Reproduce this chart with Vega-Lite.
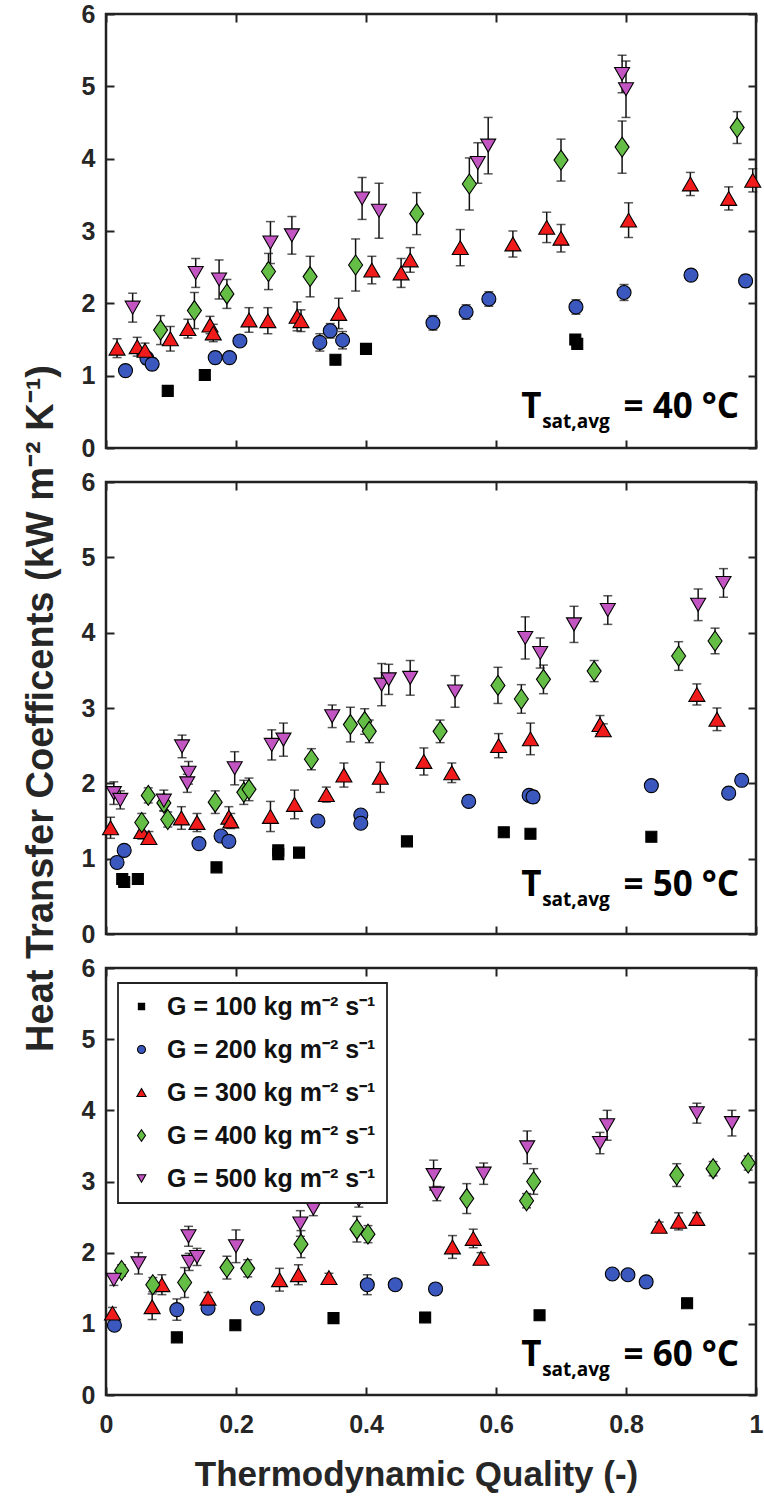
{
"$schema": "https://vega.github.io/schema/vega-lite/v6.json",
"background": "white",
"padding": {"left": 20, "top": 0, "right": 5, "bottom": 5},
"spacing": 34,
"bounds": "flush",
"resolve": {"scale": {"x": "independent", "y": "independent"}, "legend": {"color": "independent", "shape": "independent"}},
"config": {
 "font": "Liberation Sans",
 "view": {"stroke": "#222222", "strokeWidth": 2.5},
 "axis": {"grid": false, "domain": false, "ticks": true, "tickSize": -8, "tickWidth": 2, "tickColor": "#222222", "labelFont": "Liberation Sans", "labelFontSize": 25, "labelFontWeight": "bold", "labelColor": "#262626", "labelFlush": false, "labelOverlap": false, "labelBound": false, "titleFont": "Liberation Sans", "titleFontWeight": "bold", "titleColor": "#262626"},
 "axisX": {"labelPadding": 25},
 "axisY": {"labelPadding": 19}
},
"datasets": {
"ann": [
{"p":"40","k":"T","t":"T","x":0.639,"y":0.41},
{"p":"40","k":"s","t":"sat,avg","x":0.671,"y":0.27},
{"p":"40","k":"e","t":"= 40 °C","x":0.974,"y":0.41},
{"p":"50","k":"T","t":"T","x":0.639,"y":0.50},
{"p":"50","k":"s","t":"sat,avg","x":0.671,"y":0.37},
{"p":"50","k":"e","t":"= 50 °C","x":0.974,"y":0.50},
{"p":"60","k":"T","t":"T","x":0.639,"y":0.41},
{"p":"60","k":"s","t":"sat,avg","x":0.671,"y":0.26},
{"p":"60","k":"e","t":"= 60 °C","x":0.974,"y":0.41}
],
"pts": [
{"p":"40","G":"100","x":0.095,"y":0.79,"lo":0.75,"hi":0.83},
{"p":"40","G":"100","x":0.152,"y":1.01,"lo":0.97,"hi":1.05},
{"p":"40","G":"100","x":0.353,"y":1.22,"lo":1.18,"hi":1.26},
{"p":"40","G":"100","x":0.400,"y":1.37,"lo":1.33,"hi":1.41},
{"p":"40","G":"100","x":0.722,"y":1.50,"lo":1.46,"hi":1.54},
{"p":"40","G":"100","x":0.725,"y":1.44,"lo":1.40,"hi":1.48},
{"p":"40","G":"200","x":0.030,"y":1.07,"lo":1.00,"hi":1.14},
{"p":"40","G":"200","x":0.063,"y":1.24,"lo":1.16,"hi":1.32},
{"p":"40","G":"200","x":0.071,"y":1.16,"lo":1.08,"hi":1.24},
{"p":"40","G":"200","x":0.168,"y":1.25,"lo":1.17,"hi":1.33},
{"p":"40","G":"200","x":0.190,"y":1.25,"lo":1.19,"hi":1.31},
{"p":"40","G":"200","x":0.206,"y":1.48,"lo":1.42,"hi":1.54},
{"p":"40","G":"200","x":0.329,"y":1.46,"lo":1.34,"hi":1.58},
{"p":"40","G":"200","x":0.345,"y":1.62,"lo":1.52,"hi":1.72},
{"p":"40","G":"200","x":0.364,"y":1.49,"lo":1.37,"hi":1.61},
{"p":"40","G":"200","x":0.503,"y":1.73,"lo":1.63,"hi":1.83},
{"p":"40","G":"200","x":0.554,"y":1.88,"lo":1.78,"hi":1.98},
{"p":"40","G":"200","x":0.589,"y":2.06,"lo":1.96,"hi":2.16},
{"p":"40","G":"200","x":0.723,"y":1.95,"lo":1.85,"hi":2.05},
{"p":"40","G":"200","x":0.797,"y":2.15,"lo":2.04,"hi":2.26},
{"p":"40","G":"200","x":0.900,"y":2.39,"lo":2.32,"hi":2.46},
{"p":"40","G":"200","x":0.984,"y":2.31,"lo":2.23,"hi":2.39},
{"p":"40","G":"300","x":0.017,"y":1.38,"lo":1.25,"hi":1.51},
{"p":"40","G":"300","x":0.048,"y":1.40,"lo":1.27,"hi":1.53},
{"p":"40","G":"300","x":0.060,"y":1.35,"lo":1.25,"hi":1.45},
{"p":"40","G":"300","x":0.099,"y":1.51,"lo":1.34,"hi":1.68},
{"p":"40","G":"300","x":0.126,"y":1.65,"lo":1.52,"hi":1.78},
{"p":"40","G":"300","x":0.160,"y":1.70,"lo":1.58,"hi":1.82},
{"p":"40","G":"300","x":0.165,"y":1.59,"lo":1.47,"hi":1.71},
{"p":"40","G":"300","x":0.220,"y":1.77,"lo":1.60,"hi":1.94},
{"p":"40","G":"300","x":0.249,"y":1.76,"lo":1.58,"hi":1.94},
{"p":"40","G":"300","x":0.294,"y":1.82,"lo":1.62,"hi":2.02},
{"p":"40","G":"300","x":0.300,"y":1.76,"lo":1.61,"hi":1.91},
{"p":"40","G":"300","x":0.358,"y":1.86,"lo":1.65,"hi":2.07},
{"p":"40","G":"300","x":0.409,"y":2.46,"lo":2.27,"hi":2.65},
{"p":"40","G":"300","x":0.454,"y":2.42,"lo":2.22,"hi":2.62},
{"p":"40","G":"300","x":0.468,"y":2.60,"lo":2.43,"hi":2.77},
{"p":"40","G":"300","x":0.545,"y":2.77,"lo":2.52,"hi":3.02},
{"p":"40","G":"300","x":0.626,"y":2.82,"lo":2.64,"hi":3.00},
{"p":"40","G":"300","x":0.678,"y":3.05,"lo":2.84,"hi":3.26},
{"p":"40","G":"300","x":0.700,"y":2.90,"lo":2.71,"hi":3.09},
{"p":"40","G":"300","x":0.804,"y":3.15,"lo":2.91,"hi":3.39},
{"p":"40","G":"300","x":0.899,"y":3.65,"lo":3.49,"hi":3.81},
{"p":"40","G":"300","x":0.958,"y":3.45,"lo":3.29,"hi":3.61},
{"p":"40","G":"300","x":0.995,"y":3.70,"lo":3.54,"hi":3.86},
{"p":"40","G":"400","x":0.084,"y":1.63,"lo":1.43,"hi":1.83},
{"p":"40","G":"400","x":0.136,"y":1.90,"lo":1.65,"hi":2.15},
{"p":"40","G":"400","x":0.186,"y":2.13,"lo":1.93,"hi":2.33},
{"p":"40","G":"400","x":0.250,"y":2.44,"lo":2.19,"hi":2.69},
{"p":"40","G":"400","x":0.314,"y":2.37,"lo":2.09,"hi":2.65},
{"p":"40","G":"400","x":0.384,"y":2.53,"lo":2.17,"hi":2.89},
{"p":"40","G":"400","x":0.478,"y":3.24,"lo":2.95,"hi":3.53},
{"p":"40","G":"400","x":0.559,"y":3.65,"lo":3.29,"hi":4.01},
{"p":"40","G":"400","x":0.700,"y":3.98,"lo":3.69,"hi":4.27},
{"p":"40","G":"400","x":0.794,"y":4.16,"lo":3.80,"hi":4.52},
{"p":"40","G":"400","x":0.971,"y":4.43,"lo":4.21,"hi":4.65},
{"p":"40","G":"500","x":0.041,"y":1.94,"lo":1.74,"hi":2.14},
{"p":"40","G":"500","x":0.138,"y":2.42,"lo":2.22,"hi":2.62},
{"p":"40","G":"500","x":0.174,"y":2.33,"lo":2.06,"hi":2.60},
{"p":"40","G":"500","x":0.253,"y":2.84,"lo":2.55,"hi":3.13},
{"p":"40","G":"500","x":0.286,"y":2.94,"lo":2.68,"hi":3.20},
{"p":"40","G":"500","x":0.394,"y":3.45,"lo":3.16,"hi":3.74},
{"p":"40","G":"500","x":0.420,"y":3.28,"lo":2.90,"hi":3.66},
{"p":"40","G":"500","x":0.572,"y":3.94,"lo":3.66,"hi":4.22},
{"p":"40","G":"500","x":0.588,"y":4.18,"lo":3.79,"hi":4.57},
{"p":"40","G":"500","x":0.794,"y":5.17,"lo":4.91,"hi":5.43},
{"p":"40","G":"500","x":0.800,"y":4.96,"lo":4.57,"hi":5.35},
{"p":"50","G":"100","x":0.025,"y":0.73,"lo":0.69,"hi":0.77},
{"p":"50","G":"100","x":0.028,"y":0.69,"lo":0.65,"hi":0.73},
{"p":"50","G":"100","x":0.049,"y":0.73,"lo":0.69,"hi":0.77},
{"p":"50","G":"100","x":0.170,"y":0.885,"lo":0.845,"hi":0.925},
{"p":"50","G":"100","x":0.265,"y":1.11,"lo":1.07,"hi":1.15},
{"p":"50","G":"100","x":0.265,"y":1.06,"lo":1.02,"hi":1.10},
{"p":"50","G":"100","x":0.297,"y":1.08,"lo":1.04,"hi":1.12},
{"p":"50","G":"100","x":0.463,"y":1.23,"lo":1.19,"hi":1.27},
{"p":"50","G":"100","x":0.612,"y":1.35,"lo":1.31,"hi":1.39},
{"p":"50","G":"100","x":0.653,"y":1.33,"lo":1.29,"hi":1.37},
{"p":"50","G":"100","x":0.839,"y":1.29,"lo":1.25,"hi":1.33},
{"p":"50","G":"200","x":0.017,"y":0.95,"lo":0.88,"hi":1.02},
{"p":"50","G":"200","x":0.028,"y":1.11,"lo":1.05,"hi":1.17},
{"p":"50","G":"200","x":0.143,"y":1.20,"lo":1.14,"hi":1.26},
{"p":"50","G":"200","x":0.177,"y":1.30,"lo":1.23,"hi":1.37},
{"p":"50","G":"200","x":0.189,"y":1.23,"lo":1.16,"hi":1.30},
{"p":"50","G":"200","x":0.326,"y":1.50,"lo":1.45,"hi":1.55},
{"p":"50","G":"200","x":0.392,"y":1.58,"lo":1.53,"hi":1.63},
{"p":"50","G":"200","x":0.392,"y":1.47,"lo":1.41,"hi":1.53},
{"p":"50","G":"200","x":0.558,"y":1.76,"lo":1.71,"hi":1.81},
{"p":"50","G":"200","x":0.651,"y":1.84,"lo":1.78,"hi":1.90},
{"p":"50","G":"200","x":0.657,"y":1.82,"lo":1.74,"hi":1.90},
{"p":"50","G":"200","x":0.839,"y":1.97,"lo":1.92,"hi":2.02},
{"p":"50","G":"200","x":0.958,"y":1.87,"lo":1.82,"hi":1.92},
{"p":"50","G":"200","x":0.978,"y":2.04,"lo":1.99,"hi":2.09},
{"p":"50","G":"300","x":0.007,"y":1.41,"lo":1.27,"hi":1.55},
{"p":"50","G":"300","x":0.055,"y":1.36,"lo":1.26,"hi":1.46},
{"p":"50","G":"300","x":0.066,"y":1.28,"lo":1.20,"hi":1.36},
{"p":"50","G":"300","x":0.116,"y":1.54,"lo":1.39,"hi":1.69},
{"p":"50","G":"300","x":0.140,"y":1.48,"lo":1.36,"hi":1.60},
{"p":"50","G":"300","x":0.189,"y":1.55,"lo":1.41,"hi":1.69},
{"p":"50","G":"300","x":0.192,"y":1.50,"lo":1.40,"hi":1.60},
{"p":"50","G":"300","x":0.253,"y":1.56,"lo":1.36,"hi":1.76},
{"p":"50","G":"300","x":0.290,"y":1.72,"lo":1.53,"hi":1.91},
{"p":"50","G":"300","x":0.339,"y":1.85,"lo":1.75,"hi":1.95},
{"p":"50","G":"300","x":0.366,"y":2.11,"lo":1.95,"hi":2.27},
{"p":"50","G":"300","x":0.422,"y":2.08,"lo":1.88,"hi":2.28},
{"p":"50","G":"300","x":0.489,"y":2.29,"lo":2.11,"hi":2.47},
{"p":"50","G":"300","x":0.532,"y":2.14,"lo":2.01,"hi":2.27},
{"p":"50","G":"300","x":0.604,"y":2.50,"lo":2.34,"hi":2.66},
{"p":"50","G":"300","x":0.653,"y":2.59,"lo":2.38,"hi":2.80},
{"p":"50","G":"300","x":0.760,"y":2.78,"lo":2.66,"hi":2.90},
{"p":"50","G":"300","x":0.765,"y":2.71,"lo":2.63,"hi":2.79},
{"p":"50","G":"300","x":0.909,"y":3.18,"lo":3.04,"hi":3.32},
{"p":"50","G":"300","x":0.940,"y":2.85,"lo":2.70,"hi":3.00},
{"p":"50","G":"400","x":0.055,"y":1.48,"lo":1.36,"hi":1.60},
{"p":"50","G":"400","x":0.065,"y":1.84,"lo":1.74,"hi":1.94},
{"p":"50","G":"400","x":0.089,"y":1.74,"lo":1.64,"hi":1.84},
{"p":"50","G":"400","x":0.095,"y":1.52,"lo":1.42,"hi":1.62},
{"p":"50","G":"400","x":0.168,"y":1.75,"lo":1.60,"hi":1.90},
{"p":"50","G":"400","x":0.212,"y":1.88,"lo":1.72,"hi":2.04},
{"p":"50","G":"400","x":0.220,"y":1.92,"lo":1.77,"hi":2.07},
{"p":"50","G":"400","x":0.316,"y":2.32,"lo":2.18,"hi":2.46},
{"p":"50","G":"400","x":0.376,"y":2.78,"lo":2.55,"hi":3.01},
{"p":"50","G":"400","x":0.398,"y":2.82,"lo":2.65,"hi":2.99},
{"p":"50","G":"400","x":0.405,"y":2.69,"lo":2.54,"hi":2.84},
{"p":"50","G":"400","x":0.514,"y":2.69,"lo":2.54,"hi":2.84},
{"p":"50","G":"400","x":0.603,"y":3.30,"lo":3.06,"hi":3.54},
{"p":"50","G":"400","x":0.639,"y":3.12,"lo":2.93,"hi":3.31},
{"p":"50","G":"400","x":0.673,"y":3.38,"lo":3.19,"hi":3.57},
{"p":"50","G":"400","x":0.751,"y":3.49,"lo":3.35,"hi":3.63},
{"p":"50","G":"400","x":0.881,"y":3.69,"lo":3.50,"hi":3.88},
{"p":"50","G":"400","x":0.937,"y":3.89,"lo":3.72,"hi":4.06},
{"p":"50","G":"500","x":0.012,"y":1.87,"lo":1.72,"hi":2.02},
{"p":"50","G":"500","x":0.022,"y":1.78,"lo":1.66,"hi":1.90},
{"p":"50","G":"500","x":0.089,"y":1.77,"lo":1.63,"hi":1.91},
{"p":"50","G":"500","x":0.117,"y":2.49,"lo":2.34,"hi":2.64},
{"p":"50","G":"500","x":0.127,"y":2.14,"lo":1.99,"hi":2.29},
{"p":"50","G":"500","x":0.125,"y":2.00,"lo":1.88,"hi":2.12},
{"p":"50","G":"500","x":0.198,"y":2.20,"lo":1.98,"hi":2.42},
{"p":"50","G":"500","x":0.255,"y":2.51,"lo":2.31,"hi":2.71},
{"p":"50","G":"500","x":0.273,"y":2.58,"lo":2.36,"hi":2.80},
{"p":"50","G":"500","x":0.348,"y":2.89,"lo":2.74,"hi":3.04},
{"p":"50","G":"500","x":0.424,"y":3.31,"lo":3.03,"hi":3.59},
{"p":"50","G":"500","x":0.435,"y":3.38,"lo":3.18,"hi":3.58},
{"p":"50","G":"500","x":0.468,"y":3.40,"lo":3.17,"hi":3.63},
{"p":"50","G":"500","x":0.537,"y":3.22,"lo":3.01,"hi":3.43},
{"p":"50","G":"500","x":0.645,"y":3.93,"lo":3.65,"hi":4.21},
{"p":"50","G":"500","x":0.668,"y":3.73,"lo":3.53,"hi":3.93},
{"p":"50","G":"500","x":0.720,"y":4.11,"lo":3.87,"hi":4.35},
{"p":"50","G":"500","x":0.772,"y":4.30,"lo":4.11,"hi":4.49},
{"p":"50","G":"500","x":0.911,"y":4.37,"lo":4.16,"hi":4.58},
{"p":"50","G":"500","x":0.950,"y":4.66,"lo":4.47,"hi":4.85},
{"p":"60","G":"100","x":0.109,"y":0.81,"lo":0.77,"hi":0.85},
{"p":"60","G":"100","x":0.199,"y":0.98,"lo":0.94,"hi":1.02},
{"p":"60","G":"100","x":0.350,"y":1.08,"lo":1.04,"hi":1.12},
{"p":"60","G":"100","x":0.491,"y":1.09,"lo":1.05,"hi":1.13},
{"p":"60","G":"100","x":0.667,"y":1.12,"lo":1.08,"hi":1.16},
{"p":"60","G":"100","x":0.894,"y":1.29,"lo":1.25,"hi":1.33},
{"p":"60","G":"200","x":0.013,"y":0.98,"lo":0.92,"hi":1.04},
{"p":"60","G":"200","x":0.109,"y":1.20,"lo":1.05,"hi":1.35},
{"p":"60","G":"200","x":0.157,"y":1.22,"lo":1.16,"hi":1.28},
{"p":"60","G":"200","x":0.233,"y":1.22,"lo":1.17,"hi":1.27},
{"p":"60","G":"200","x":0.402,"y":1.55,"lo":1.41,"hi":1.69},
{"p":"60","G":"200","x":0.445,"y":1.55,"lo":1.50,"hi":1.60},
{"p":"60","G":"200","x":0.507,"y":1.49,"lo":1.44,"hi":1.54},
{"p":"60","G":"200","x":0.779,"y":1.70,"lo":1.64,"hi":1.76},
{"p":"60","G":"200","x":0.803,"y":1.69,"lo":1.64,"hi":1.74},
{"p":"60","G":"200","x":0.831,"y":1.59,"lo":1.54,"hi":1.64},
{"p":"60","G":"300","x":0.010,"y":1.15,"lo":1.07,"hi":1.23},
{"p":"60","G":"300","x":0.071,"y":1.24,"lo":1.06,"hi":1.42},
{"p":"60","G":"300","x":0.086,"y":1.55,"lo":1.41,"hi":1.69},
{"p":"60","G":"300","x":0.157,"y":1.36,"lo":1.28,"hi":1.44},
{"p":"60","G":"300","x":0.267,"y":1.62,"lo":1.46,"hi":1.78},
{"p":"60","G":"300","x":0.296,"y":1.69,"lo":1.55,"hi":1.83},
{"p":"60","G":"300","x":0.343,"y":1.65,"lo":1.59,"hi":1.71},
{"p":"60","G":"300","x":0.533,"y":2.08,"lo":1.92,"hi":2.24},
{"p":"60","G":"300","x":0.565,"y":2.20,"lo":2.07,"hi":2.33},
{"p":"60","G":"300","x":0.577,"y":1.92,"lo":1.84,"hi":2.00},
{"p":"60","G":"300","x":0.851,"y":2.37,"lo":2.31,"hi":2.43},
{"p":"60","G":"300","x":0.881,"y":2.44,"lo":2.32,"hi":2.56},
{"p":"60","G":"300","x":0.909,"y":2.48,"lo":2.40,"hi":2.56},
{"p":"60","G":"400","x":0.024,"y":1.75,"lo":1.67,"hi":1.83},
{"p":"60","G":"400","x":0.072,"y":1.55,"lo":1.45,"hi":1.65},
{"p":"60","G":"400","x":0.121,"y":1.58,"lo":1.37,"hi":1.79},
{"p":"60","G":"400","x":0.186,"y":1.79,"lo":1.63,"hi":1.95},
{"p":"60","G":"400","x":0.218,"y":1.78,"lo":1.66,"hi":1.90},
{"p":"60","G":"400","x":0.300,"y":2.12,"lo":1.93,"hi":2.31},
{"p":"60","G":"400","x":0.386,"y":2.33,"lo":2.15,"hi":2.51},
{"p":"60","G":"400","x":0.403,"y":2.26,"lo":2.14,"hi":2.38},
{"p":"60","G":"400","x":0.555,"y":2.76,"lo":2.55,"hi":2.97},
{"p":"60","G":"400","x":0.647,"y":2.73,"lo":2.63,"hi":2.83},
{"p":"60","G":"400","x":0.658,"y":3.00,"lo":2.82,"hi":3.18},
{"p":"60","G":"400","x":0.878,"y":3.09,"lo":2.93,"hi":3.25},
{"p":"60","G":"400","x":0.934,"y":3.18,"lo":3.08,"hi":3.28},
{"p":"60","G":"400","x":0.988,"y":3.26,"lo":3.16,"hi":3.36},
{"p":"60","G":"500","x":0.012,"y":1.62,"lo":1.54,"hi":1.70},
{"p":"60","G":"500","x":0.050,"y":1.85,"lo":1.70,"hi":2.00},
{"p":"60","G":"500","x":0.127,"y":2.23,"lo":2.09,"hi":2.37},
{"p":"60","G":"500","x":0.128,"y":1.87,"lo":1.75,"hi":1.99},
{"p":"60","G":"500","x":0.140,"y":1.94,"lo":1.82,"hi":2.06},
{"p":"60","G":"500","x":0.200,"y":2.09,"lo":1.86,"hi":2.32},
{"p":"60","G":"500","x":0.299,"y":2.41,"lo":2.23,"hi":2.59},
{"p":"60","G":"500","x":0.319,"y":2.62,"lo":2.52,"hi":2.72},
{"p":"60","G":"500","x":0.389,"y":2.74,"lo":2.64,"hi":2.84},
{"p":"60","G":"500","x":0.504,"y":3.09,"lo":2.88,"hi":3.30},
{"p":"60","G":"500","x":0.509,"y":2.83,"lo":2.73,"hi":2.93},
{"p":"60","G":"500","x":0.581,"y":3.11,"lo":2.96,"hi":3.26},
{"p":"60","G":"500","x":0.648,"y":3.48,"lo":3.25,"hi":3.71},
{"p":"60","G":"500","x":0.760,"y":3.54,"lo":3.39,"hi":3.69},
{"p":"60","G":"500","x":0.771,"y":3.79,"lo":3.58,"hi":4.00},
{"p":"60","G":"500","x":0.909,"y":3.96,"lo":3.82,"hi":4.10},
{"p":"60","G":"500","x":0.963,"y":3.82,"lo":3.64,"hi":4.00}
]
},
"vconcat": [
{
 "width": 650, "height": 434,
 "layer": [
  {"data": {"name": "pts"}, "transform": [{"filter": "datum.p == '40'"}],
   "mark": {"type": "errorbar", "color": "#111111", "ticks": {"size": 9, "thickness": 1.5}, "rule": {"strokeWidth": 1.5}},
   "encoding": {
    "x": {"field": "x", "type": "quantitative", "scale": {"domain": [0, 1], "nice": false, "zero": false}, "axis": {"orient": "bottom", "values": [0, 0.2, 0.4, 0.6, 0.8, 1], "labels": false, "title": null}},
    "y": {"field": "lo", "type": "quantitative", "scale": {"domain": [0, 6], "nice": false, "zero": false}, "axis": {"orient": "left", "values": [0, 1, 2, 3, 4, 5, 6], "format": "d", "title": null}},
    "y2": {"field": "hi"}
   }},
  {"data": {"name": "pts"}, "transform": [{"filter": "datum.p == '40'"}],
   "mark": {"type": "point", "filled": true, "opacity": 1, "size": 400, "stroke": "#000000", "strokeWidth": 1.1},
   "encoding": {
    "x": {"field": "x", "type": "quantitative", "scale": {"domain": [0, 1], "nice": false, "zero": false}, "axis": {"orient": "top", "values": [0, 0.2, 0.4, 0.6, 0.8, 1], "labels": false, "title": null}},
    "y": {"field": "y", "type": "quantitative", "scale": {"domain": [0, 6], "nice": false, "zero": false}, "axis": {"orient": "right", "values": [0, 1, 2, 3, 4, 5, 6], "labels": false, "title": null}},
    "color": {"field": "G", "type": "nominal", "scale": {"domain": ["100", "200", "300", "400", "500"], "range": ["#000000", "#3B58BE", "#F21B1B", "#64BE46", "#C355C3"]}, "legend": null},
    "shape": {"field": "G", "type": "nominal", "scale": {"domain": ["100", "200", "300", "400", "500"], "range": ["M-0.55,-0.55H0.55V0.55H-0.55Z", "M0.7,0C0.7,0.3866,0.3866,0.7,0,0.7C-0.3866,0.7,-0.7,0.3866,-0.7,0C-0.7,-0.3866,-0.3866,-0.7,0,-0.7C0.3866,-0.7,0.7,-0.3866,0.7,0Z", "M0,-0.69L0.8,0.69L-0.8,0.69Z", "M0,-1L0.7,0L0,1L-0.7,0Z", "M0,0.65L0.75,-0.65L-0.75,-0.65Z"]}, "legend": null}
   }},
  {"data": {"name": "ann"}, "transform": [{"filter": "datum.p == '40' && datum.k == 'T'"}],
   "mark": {"type": "text", "font": "Open Sans", "fontWeight": "bold", "fontSize": 35, "align": "left", "baseline": "alphabetic", "color": "#000000"},
   "encoding": {"x": {"field": "x", "type": "quantitative", "scale": {"domain": [0, 1], "nice": false, "zero": false}, "axis": null}, "y": {"field": "y", "type": "quantitative", "scale": {"domain": [0, 6], "nice": false, "zero": false}, "axis": null}, "text": {"field": "t"}}},
  {"data": {"name": "ann"}, "transform": [{"filter": "datum.p == '40' && datum.k == 's'"}],
   "mark": {"type": "text", "font": "Open Sans", "fontWeight": "bold", "fontSize": 19, "align": "left", "baseline": "alphabetic", "color": "#000000"},
   "encoding": {"x": {"field": "x", "type": "quantitative", "scale": {"domain": [0, 1], "nice": false, "zero": false}, "axis": null}, "y": {"field": "y", "type": "quantitative", "scale": {"domain": [0, 6], "nice": false, "zero": false}, "axis": null}, "text": {"field": "t"}}},
  {"data": {"name": "ann"}, "transform": [{"filter": "datum.p == '40' && datum.k == 'e'"}],
   "mark": {"type": "text", "font": "Open Sans", "fontWeight": "bold", "fontSize": 35, "align": "right", "baseline": "alphabetic", "color": "#000000"},
   "encoding": {"x": {"field": "x", "type": "quantitative", "scale": {"domain": [0, 1], "nice": false, "zero": false}, "axis": null}, "y": {"field": "y", "type": "quantitative", "scale": {"domain": [0, 6], "nice": false, "zero": false}, "axis": null}, "text": {"field": "t"}}}
 ]
},
{
 "width": 650, "height": 452,
 "layer": [
  {"data": {"name": "pts"}, "transform": [{"filter": "datum.p == '50'"}],
   "mark": {"type": "errorbar", "color": "#111111", "ticks": {"size": 9, "thickness": 1.5}, "rule": {"strokeWidth": 1.5}},
   "encoding": {
    "x": {"field": "x", "type": "quantitative", "scale": {"domain": [0, 1], "nice": false, "zero": false}, "axis": {"orient": "bottom", "values": [0, 0.2, 0.4, 0.6, 0.8, 1], "labels": false, "title": null}},
    "y": {"field": "lo", "type": "quantitative", "scale": {"domain": [0, 6], "nice": false, "zero": false}, "axis": {"orient": "left", "values": [0, 1, 2, 3, 4, 5, 6], "format": "d", "title": "Heat Transfer Coefficents (kW m⁻² K⁻¹)", "titleFontSize": 38, "titlePadding": 21}},
    "y2": {"field": "hi"}
   }},
  {"data": {"name": "pts"}, "transform": [{"filter": "datum.p == '50'"}],
   "mark": {"type": "point", "filled": true, "opacity": 1, "size": 400, "stroke": "#000000", "strokeWidth": 1.1},
   "encoding": {
    "x": {"field": "x", "type": "quantitative", "scale": {"domain": [0, 1], "nice": false, "zero": false}, "axis": {"orient": "top", "values": [0, 0.2, 0.4, 0.6, 0.8, 1], "labels": false, "title": null}},
    "y": {"field": "y", "type": "quantitative", "scale": {"domain": [0, 6], "nice": false, "zero": false}, "axis": {"orient": "right", "values": [0, 1, 2, 3, 4, 5, 6], "labels": false, "title": null}},
    "color": {"field": "G", "type": "nominal", "scale": {"domain": ["100", "200", "300", "400", "500"], "range": ["#000000", "#3B58BE", "#F21B1B", "#64BE46", "#C355C3"]}, "legend": null},
    "shape": {"field": "G", "type": "nominal", "scale": {"domain": ["100", "200", "300", "400", "500"], "range": ["M-0.55,-0.55H0.55V0.55H-0.55Z", "M0.7,0C0.7,0.3866,0.3866,0.7,0,0.7C-0.3866,0.7,-0.7,0.3866,-0.7,0C-0.7,-0.3866,-0.3866,-0.7,0,-0.7C0.3866,-0.7,0.7,-0.3866,0.7,0Z", "M0,-0.69L0.8,0.69L-0.8,0.69Z", "M0,-1L0.7,0L0,1L-0.7,0Z", "M0,0.65L0.75,-0.65L-0.75,-0.65Z"]}, "legend": null}
   }},
  {"data": {"name": "ann"}, "transform": [{"filter": "datum.p == '50' && datum.k == 'T'"}],
   "mark": {"type": "text", "font": "Open Sans", "fontWeight": "bold", "fontSize": 35, "align": "left", "baseline": "alphabetic", "color": "#000000"},
   "encoding": {"x": {"field": "x", "type": "quantitative", "scale": {"domain": [0, 1], "nice": false, "zero": false}, "axis": null}, "y": {"field": "y", "type": "quantitative", "scale": {"domain": [0, 6], "nice": false, "zero": false}, "axis": null}, "text": {"field": "t"}}},
  {"data": {"name": "ann"}, "transform": [{"filter": "datum.p == '50' && datum.k == 's'"}],
   "mark": {"type": "text", "font": "Open Sans", "fontWeight": "bold", "fontSize": 19, "align": "left", "baseline": "alphabetic", "color": "#000000"},
   "encoding": {"x": {"field": "x", "type": "quantitative", "scale": {"domain": [0, 1], "nice": false, "zero": false}, "axis": null}, "y": {"field": "y", "type": "quantitative", "scale": {"domain": [0, 6], "nice": false, "zero": false}, "axis": null}, "text": {"field": "t"}}},
  {"data": {"name": "ann"}, "transform": [{"filter": "datum.p == '50' && datum.k == 'e'"}],
   "mark": {"type": "text", "font": "Open Sans", "fontWeight": "bold", "fontSize": 35, "align": "right", "baseline": "alphabetic", "color": "#000000"},
   "encoding": {"x": {"field": "x", "type": "quantitative", "scale": {"domain": [0, 1], "nice": false, "zero": false}, "axis": null}, "y": {"field": "y", "type": "quantitative", "scale": {"domain": [0, 6], "nice": false, "zero": false}, "axis": null}, "text": {"field": "t"}}}
 ]
},
{
 "width": 650, "height": 427,
 "layer": [
  {"data": {"name": "pts"}, "transform": [{"filter": "datum.p == '60'"}],
   "mark": {"type": "errorbar", "color": "#111111", "ticks": {"size": 9, "thickness": 1.5}, "rule": {"strokeWidth": 1.5}},
   "encoding": {
    "x": {"field": "x", "type": "quantitative", "scale": {"domain": [0, 1], "nice": false, "zero": false}, "axis": {"orient": "bottom", "values": [0, 0.2, 0.4, 0.6, 0.8, 1], "format": "~g", "title": "Thermodynamic Quality (-)", "titleFontSize": 35, "titlePadding": 20, "titleX": 310}},
    "y": {"field": "lo", "type": "quantitative", "scale": {"domain": [0, 6], "nice": false, "zero": false}, "axis": {"orient": "left", "values": [0, 1, 2, 3, 4, 5, 6], "format": "d", "title": null}},
    "y2": {"field": "hi"}
   }},
  {"data": {"name": "pts"}, "transform": [{"filter": "datum.p == '60'"}],
   "mark": {"type": "point", "filled": true, "opacity": 1, "size": 400, "stroke": "#000000", "strokeWidth": 1.1},
   "encoding": {
    "x": {"field": "x", "type": "quantitative", "scale": {"domain": [0, 1], "nice": false, "zero": false}, "axis": {"orient": "top", "values": [0, 0.2, 0.4, 0.6, 0.8, 1], "labels": false, "title": null}},
    "y": {"field": "y", "type": "quantitative", "scale": {"domain": [0, 6], "nice": false, "zero": false}, "axis": {"orient": "right", "values": [0, 1, 2, 3, 4, 5, 6], "labels": false, "title": null}},
    "color": {"field": "G", "type": "nominal", "scale": {"domain": ["100", "200", "300", "400", "500"], "range": ["#000000", "#3B58BE", "#F21B1B", "#64BE46", "#C355C3"]},
     "legend": {"orient": "none", "legendX": 12, "legendY": 15, "title": null, "labelExpr": "'G = ' + datum.label + ' kg m⁻² s⁻¹'", "labelFont": "Liberation Sans", "labelFontWeight": "bold", "labelFontSize": 25, "labelColor": "#111111", "labelLimit": 400, "strokeColor": "#222222", "fillColor": "#ffffff", "padding": 11, "rowPadding": 17, "labelOffset": 13, "symbolSize": 130, "symbolOpacity": 1, "symbolStrokeWidth": 1.1, "symbolStrokeColor": "#000000",
      "encode": {"legend": {"update": {"strokeWidth": {"value": 1.8}}}, "symbols": {"update": {"size": {"value": 130}, "stroke": {"value": "#000000"}, "strokeWidth": {"value": 1.1}}}}}},
    "shape": {"field": "G", "type": "nominal", "scale": {"domain": ["100", "200", "300", "400", "500"], "range": ["M-0.55,-0.55H0.55V0.55H-0.55Z", "M0.7,0C0.7,0.3866,0.3866,0.7,0,0.7C-0.3866,0.7,-0.7,0.3866,-0.7,0C-0.7,-0.3866,-0.3866,-0.7,0,-0.7C0.3866,-0.7,0.7,-0.3866,0.7,0Z", "M0,-0.69L0.8,0.69L-0.8,0.69Z", "M0,-1L0.7,0L0,1L-0.7,0Z", "M0,0.65L0.75,-0.65L-0.75,-0.65Z"]}, "legend": null}
   }},
  {"data": {"name": "ann"}, "transform": [{"filter": "datum.p == '60' && datum.k == 'T'"}],
   "mark": {"type": "text", "font": "Open Sans", "fontWeight": "bold", "fontSize": 35, "align": "left", "baseline": "alphabetic", "color": "#000000"},
   "encoding": {"x": {"field": "x", "type": "quantitative", "scale": {"domain": [0, 1], "nice": false, "zero": false}, "axis": null}, "y": {"field": "y", "type": "quantitative", "scale": {"domain": [0, 6], "nice": false, "zero": false}, "axis": null}, "text": {"field": "t"}}},
  {"data": {"name": "ann"}, "transform": [{"filter": "datum.p == '60' && datum.k == 's'"}],
   "mark": {"type": "text", "font": "Open Sans", "fontWeight": "bold", "fontSize": 19, "align": "left", "baseline": "alphabetic", "color": "#000000"},
   "encoding": {"x": {"field": "x", "type": "quantitative", "scale": {"domain": [0, 1], "nice": false, "zero": false}, "axis": null}, "y": {"field": "y", "type": "quantitative", "scale": {"domain": [0, 6], "nice": false, "zero": false}, "axis": null}, "text": {"field": "t"}}},
  {"data": {"name": "ann"}, "transform": [{"filter": "datum.p == '60' && datum.k == 'e'"}],
   "mark": {"type": "text", "font": "Open Sans", "fontWeight": "bold", "fontSize": 35, "align": "right", "baseline": "alphabetic", "color": "#000000"},
   "encoding": {"x": {"field": "x", "type": "quantitative", "scale": {"domain": [0, 1], "nice": false, "zero": false}, "axis": null}, "y": {"field": "y", "type": "quantitative", "scale": {"domain": [0, 6], "nice": false, "zero": false}, "axis": null}, "text": {"field": "t"}}}
 ]
}
]
}
